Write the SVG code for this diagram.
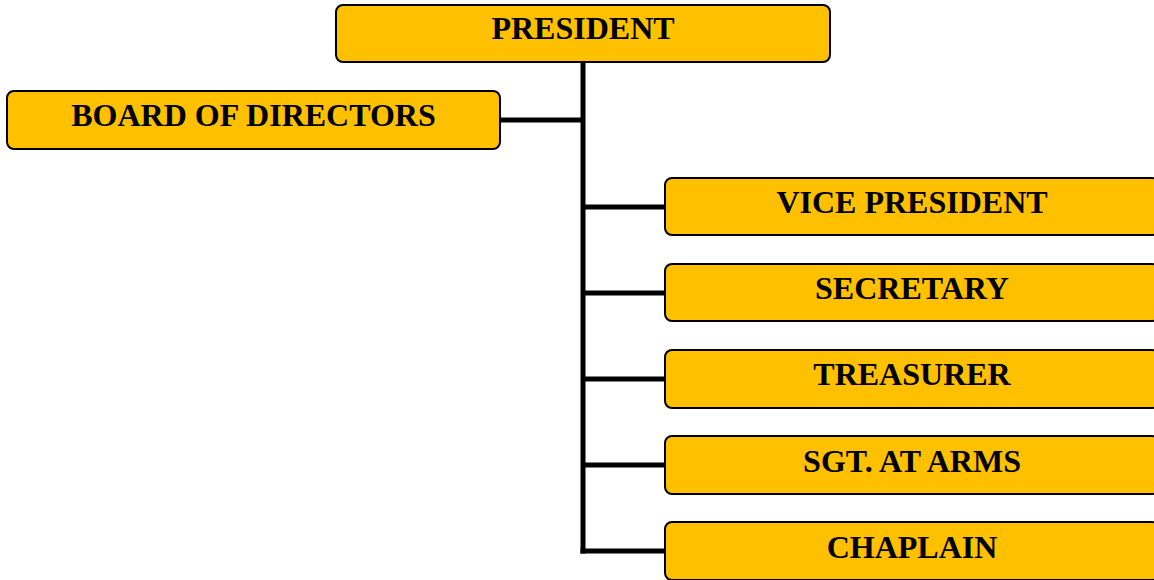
<svg xmlns="http://www.w3.org/2000/svg" width="1154" height="580" viewBox="0 0 1154 580">
<style>
.box{fill:#FFC000;stroke:#000;stroke-width:2}
.lbl{font-family:"Liberation Serif","Times New Roman",serif;font-weight:bold;font-size:32px;fill:#000;text-anchor:middle}
.con{stroke:#000;stroke-width:5;fill:none}
</style>
<rect width="1154" height="580" fill="#fff"/>
<g id="connectors">
<path class="con" d="M583 62V553.5"/>
<path class="con" d="M500 120H583"/>
<path class="con" d="M583 207H665M583 293H665M583 379H665M583 465H665M580.5 551H665"/>
</g>
<g id="president"><rect class="box" x="336" y="5" width="494" height="57" rx="7"/><text class="lbl" x="583" y="39">PRESIDENT</text></g>
<g id="board"><rect class="box" x="7" y="91" width="493" height="58" rx="7"/><text class="lbl" x="253.5" y="126">BOARD OF DIRECTORS</text></g>
<g id="vp"><rect class="box" x="665" y="178" width="494" height="57" rx="7"/><text class="lbl" x="912" y="213">VICE PRESIDENT</text></g>
<g id="secretary"><rect class="box" x="665" y="264" width="494" height="57" rx="7"/><text class="lbl" x="912" y="299">SECRETARY</text></g>
<g id="treasurer"><rect class="box" x="665" y="350" width="494" height="58" rx="7"/><text class="lbl" x="912" y="385">TREASURER</text></g>
<g id="sgt"><rect class="box" x="665" y="436" width="494" height="58" rx="7"/><text class="lbl" x="912" y="472">SGT. AT ARMS</text></g>
<g id="chaplain"><rect class="box" x="665" y="522" width="494" height="58" rx="7"/><text class="lbl" x="912" y="558">CHAPLAIN</text></g>
</svg>
